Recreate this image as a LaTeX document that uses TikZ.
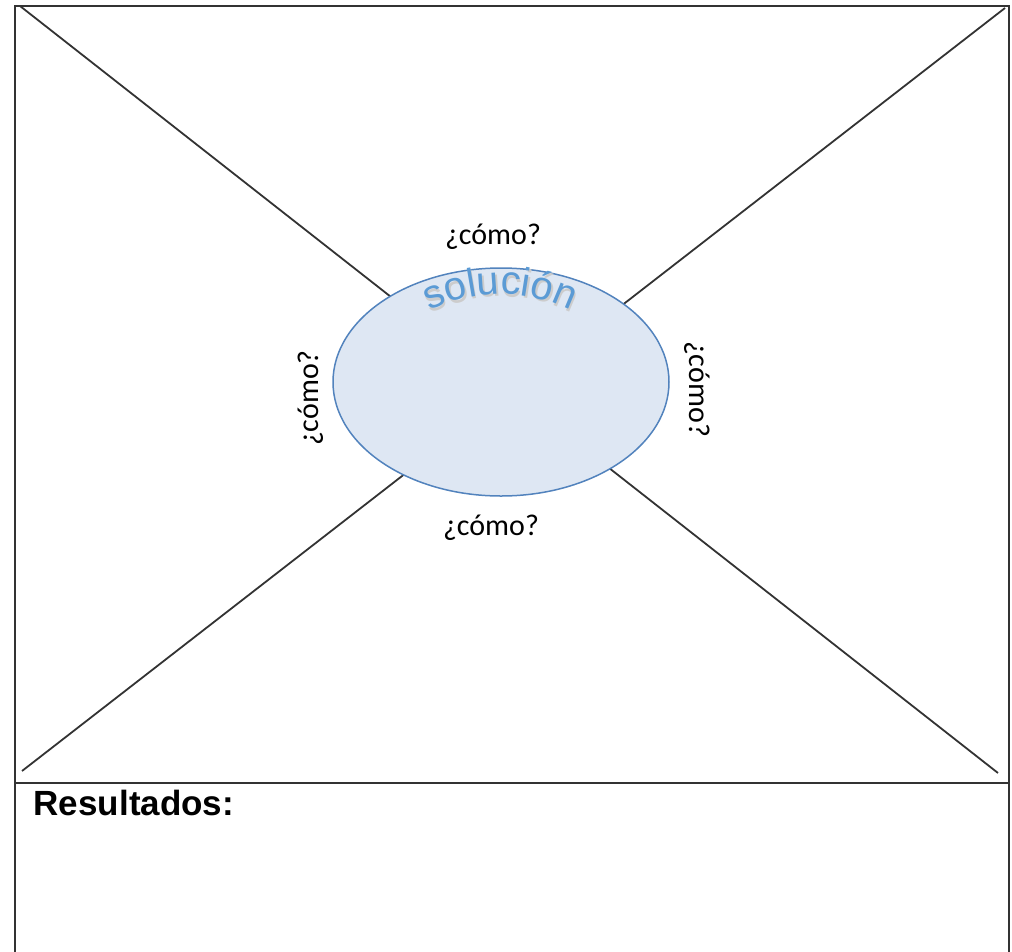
\documentclass[tikz,border=0pt]{standalone}
\usepackage{fontspec}
\setmainfont{Carlito}
\newfontfamily\arialf{Liberation Sans}
\usetikzlibrary{shapes.geometric,decorations.text,backgrounds}
\definecolor{framecol}{HTML}{333333}
\definecolor{ellfill}{HTML}{DEE7F3}
\definecolor{elldraw}{HTML}{5283BD}
\definecolor{soltext}{HTML}{5B9BD5}
\tikzset{
  framel/.style={draw=framecol, line width=2pt},
  diagl/.style={draw=framecol, line width=1.8pt},
  como/.style={font=\fontsize{30}{32}\selectfont, inner sep=0pt},
}
\begin{document}
\begin{tikzpicture}[x=1pt,y=-1pt]
\useasboundingbox (0,0) rectangle (1012,951);
% frame
\coordinate (fbl) at (15,952);
\coordinate (ftl) at (15,6);
\coordinate (ftr) at (1009,6);
\coordinate (fbr) at (1009,952);
\coordinate (dl) at (15,783);
\coordinate (dr) at (1009,783);
\draw[framel] (fbl) -- (ftl) -- (ftr) -- (fbr);
\draw[framel] (dl) -- (dr);
% ellipse
\node[ellipse, draw=elldraw, fill=ellfill, line width=1.5pt, minimum width=336pt, minimum height=228pt, inner sep=0pt] (sol) at (501,382) {};
% diagonals (behind the ellipse)
\coordinate (ctl) at (20,6);
\coordinate (ctr) at (1005,8);
\coordinate (cbl) at (22,771);
\coordinate (cbr) at (998,773);
\begin{scope}[on background layer]
\draw[diagl] (ctl) -- (cbr);
\draw[diagl] (ctr) -- (cbl);
\end{scope}
% curved text with shadow
\path[decorate, decoration={text along path, text align=center,
  text={|\arialf\fontsize{40}{40}\selectfont\color{gray!40}|solución}}]
  (501.5,453.5) ++(-130:157) arc[start angle=-130, end angle=-50, radius=157];
\path[decorate, decoration={text along path, text align=center,
  text={|\arialf\fontsize{40}{40}\selectfont\color{soltext}|solución}}]
  (500,451) ++(-130:157) arc[start angle=-130, end angle=-50, radius=157];
% labels
\node[como] (ctop) at (493,237) {¿cómo?};
\node[como] (cbot) at (491,528) {¿cómo?};
\node[como, rotate=90] (cleft) at (311,398) {¿cómo?};
\node[como, rotate=-90] (cright) at (697,389) {¿cómo?};
\node[anchor=base west, inner sep=0pt, font=\arialf\bfseries\fontsize{35}{36}\selectfont] (res) at (33.5,815) {Resultados:};
\end{tikzpicture}
\end{document}
